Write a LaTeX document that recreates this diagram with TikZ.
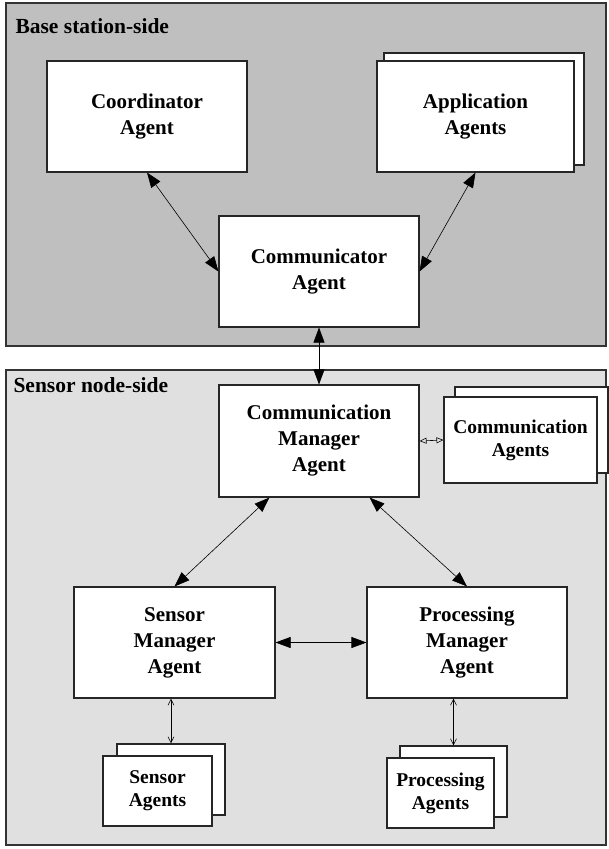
\documentclass[tikz,border=0pt]{standalone}
\usepackage{fontspec}
\setmainfont{Liberation Serif}
\usetikzlibrary{arrows.meta}

\begin{document}
\begin{tikzpicture}[x=1pt,y=-1pt,
  agentbox/.style={draw=black!85,line width=1.1pt,fill=white,align=center,inner sep=0pt,
    font=\fontsize{21}{26}\selectfont\bfseries},
  groupbox/.style={draw=black!85,line width=1.1pt,fill=white,align=center,inner sep=0pt,
    font=\fontsize{19.5}{23}\selectfont\bfseries},
  panel/.style={draw=black!80,line width=1.2pt},
  bigarrow/.style={line width=0.6pt,{Triangle[length=15pt,width=11pt]}-{Triangle[length=15pt,width=11pt]}},
  smallarrow/.style={line width=0.6pt,{Straight Barb[length=6pt,width=6pt]}-{Straight Barb[length=6pt,width=6pt]}}]
\useasboundingbox (0,0) rectangle (608,849);
% panels
\draw[panel,fill=black!25] (6,3) rectangle (606,346);
\draw[panel,fill=black!12] (6,370) rectangle (606,845);
\node[anchor=base west,font=\fontsize{21.5}{24}\selectfont\bfseries] (base) at (12,33) {Base station-side};
\node[anchor=base west,font=\fontsize{21.5}{24}\selectfont\bfseries] (sensorside) at (10,392) {Sensor node-side};
% base station agents
\node[agentbox,minimum width=200pt,minimum height=111pt] (coord) at (147,116.5) {Coordinator\\Agent};
\node[agentbox,minimum width=200pt,minimum height=112pt] (appback) at (484,109) {};
\node[agentbox,minimum width=197pt,minimum height=111pt] (app) at (475.5,116.5) {Application\\Agents};
\node[agentbox,minimum width=200pt,minimum height=111pt] (comm) at (319,271.5) {Communicator\\Agent};
% sensor node agents
\node[agentbox,minimum width=200pt,minimum height=112pt] (mgr) at (319,441) {Communication\\Manager\\Agent};
\node[groupbox,minimum width=153pt,minimum height=86pt] (commback) at (531.5,430) {};
\node[groupbox,minimum width=153pt,minimum height=86pt] (commagents) at (520.5,440) {Communication\\Agents};
\node[agentbox,minimum width=201pt,minimum height=111pt] (smgr) at (174.5,642.5) {Sensor\\Manager\\Agent};
\node[agentbox,minimum width=200pt,minimum height=111pt] (pmgr) at (467,642.5) {Processing\\Manager\\Agent};
\node[groupbox,minimum width=108pt,minimum height=71pt] (sensback) at (171,779.5) {};
\node[groupbox,minimum width=109pt,minimum height=70pt] (sensagents) at (157.5,791) {Sensor\\Agents};
\node[groupbox,minimum width=107pt,minimum height=71pt] (procback) at (453.5,781.5) {};
\node[groupbox,minimum width=107pt,minimum height=70pt] (procagents) at (440.5,793) {Processing\\Agents};
% connectors
\draw[bigarrow] (coord.south) -- (comm.west);
\draw[bigarrow] (app.south) -- (comm.east);
\draw[bigarrow] (comm.south) -- (mgr.north);
\draw[bigarrow] ([xshift=51pt]mgr.south west) -- (smgr.north);
\draw[bigarrow] ([xshift=-50pt]mgr.south east) -- (pmgr.north);
\draw[bigarrow] (smgr.east) -- (pmgr.west);
\draw[line width=0.6pt,{Triangle[open,length=7pt,width=6pt]}-{Triangle[open,length=7pt,width=6pt]}] (mgr.east) -- (commagents.west);
\draw[smallarrow] (sensback.north |- smgr.south) -- (sensback.north);
\draw[smallarrow] (procback.north |- pmgr.south) -- (procback.north);
\end{tikzpicture}
\end{document}
